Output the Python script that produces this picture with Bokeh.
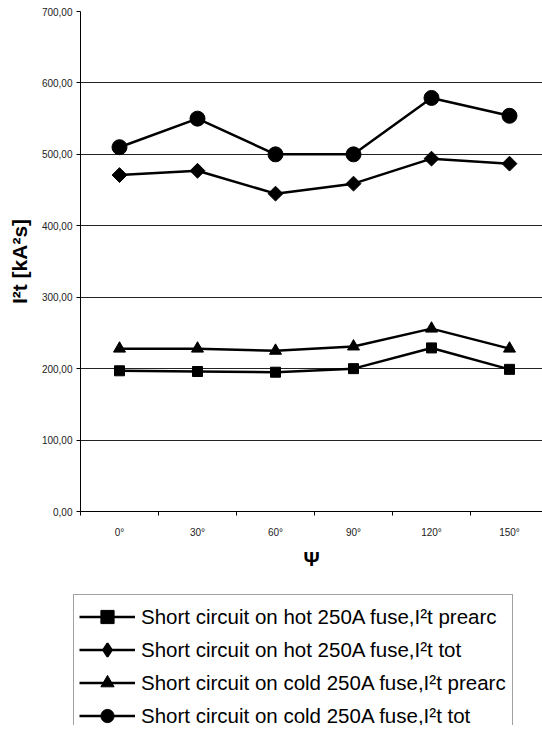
import math
from bokeh.plotting import figure
from bokeh.models import Range1d, FixedTicker, Legend, LegendItem
from bokeh.embed import file_html
from bokeh.resources import INLINE

categories = ["0°", "30°", "60°", "90°", "120°", "150°"]
hot_prearc = [197, 196, 195, 200, 229, 199]
hot_tot = [471, 477, 445, 459, 494, 487]
cold_prearc = [228, 228, 225, 231, 256, 228]
cold_tot = [510, 550, 500, 500, 579, 554]
y_ticks = [0, 100, 200, 300, 400, 500, 600, 700]
y_tick_labels = ["0,00", "100,00", "200,00", "300,00", "400,00", "500,00", "600,00", "700,00"]
series_names = [
    "Short circuit on hot 250A fuse,I²t prearc",
    "Short circuit on hot 250A fuse,I²t tot",
    "Short circuit on cold 250A fuse,I²t prearc",
    "Short circuit on cold 250A fuse,I²t tot",
]

xs = list(range(len(categories)))
FONT = "Liberation Sans"

W, H = 542, 725
X0_PX, CAT_PX = 80, 78.0          # canvas px of left category edge, px per category
Y0_PX, Y_PX_PER = 511, 500 / 700  # canvas px of value 0, px per unit
x_start = -0.5 - X0_PX / CAT_PX
x_end = -0.5 + (W - X0_PX) / CAT_PX
y_end = Y0_PX / Y_PX_PER
y_start = -(H - Y0_PX) / Y_PX_PER

p = figure(width=W, height=H, title=None,
           output_backend="svg", toolbar_location=None,
           x_range=Range1d(x_start, x_end), y_range=Range1d(y_start, y_end),
           min_border=0)
p.outline_line_color = None
p.background_fill_color = "white"
p.border_fill_color = "white"

# grid
p.xgrid.visible = False
yg = p.ygrid[0]
yg.ticker = FixedTicker(ticks=y_ticks[1:-1])
yg.grid_line_color = "#222222"
yg.grid_line_width = 1
if "cross_bounds" in yg.properties():
    yg.cross_bounds = (-0.5, 5.5)

# y axis
ya = p.yaxis[0]
ya.fixed_location = -0.5
ya.ticker = FixedTicker(ticks=y_ticks)
ya.bounds = (0, 700)
ya.major_label_overrides = {v: l for v, l in zip(y_ticks, y_tick_labels)}
ya.major_label_text_font = FONT
ya.major_label_text_font_size = "10px"
ya.major_label_text_color = "#222222"
ya.major_tick_out = 4
ya.major_tick_in = 0
ya.minor_tick_out = 0
ya.minor_tick_in = 0
ya.major_label_standoff = 4
ya.axis_line_color = "black"
ya.axis_label = "I²t [kA²s]"
ya.axis_label_text_font = FONT
ya.axis_label_text_font_style = "bold"
ya.axis_label_text_font_size = "21px"
ya.axis_label_text_color = "black"
ya.axis_label_standoff = 8

# x axis
xa = p.xaxis[0]
xa.fixed_location = 0
xa.bounds = (-0.5, 5.5)
xa.ticker = FixedTicker(ticks=xs, minor_ticks=[i - 0.5 for i in range(len(categories) + 1)])
xa.major_label_overrides = {i: c for i, c in enumerate(categories)}
xa.major_label_text_font = FONT
xa.major_label_text_font_size = "10px"
xa.major_label_text_color = "#222222"
xa.major_tick_out = 0
xa.major_tick_in = 0
xa.minor_tick_out = 4
xa.minor_tick_in = 0
xa.major_label_standoff = 11
xa.axis_line_color = "black"
xa.axis_label = "Ψ"
xa.axis_label_text_font = FONT
xa.axis_label_text_font_style = "bold"
xa.axis_label_text_font_size = "20px"
xa.axis_label_text_color = "black"
xa.axis_label_standoff = 7

LW = 2.5
r1l = p.line(xs, hot_prearc, line_color="black", line_width=LW)
r1m = p.scatter(xs, hot_prearc, marker="square", size=10, color="black")
r2l = p.line(xs, hot_tot, line_color="black", line_width=LW)
r2m = p.scatter(xs, hot_tot, marker="square", size=10.5, angle=math.pi / 4, color="black")
# same points as a diamond marker, used only for the legend swatch
r2k = p.scatter(xs, hot_tot, marker="diamond", size=14, color="black", line_width=2, visible=False)
r3l = p.line(xs, cold_prearc, line_color="black", line_width=LW)
r3m = p.scatter(xs, cold_prearc, marker="triangle", size=12, color="black")
r4l = p.line(xs, cold_tot, line_color="black", line_width=LW)
r4m = p.scatter(xs, cold_tot, marker="circle", size=15, color="black")

items = [LegendItem(label=n, renderers=rs) for n, rs in
         zip(series_names, [[r1l, r1m], [r2l, r2k], [r3l, r3m], [r4l, r4m]])]

legend = Legend(items=items, location=(73, -13))
legend.label_text_font = FONT
legend.label_text_font_size = "20.5px"
legend.label_text_color = "black"
legend.glyph_width = 56
legend.glyph_height = 33
legend.label_height = 33
legend.label_width = 366
legend.label_standoff = 6
legend.spacing = 0
legend.padding = 5
legend.margin = 0
legend.border_line_color = "#444444"
legend.border_line_width = 1
legend.background_fill_color = "white"
legend.background_fill_alpha = 1
p.add_layout(legend, "center")

open("out.html", "w").write(file_html(p, INLINE))
